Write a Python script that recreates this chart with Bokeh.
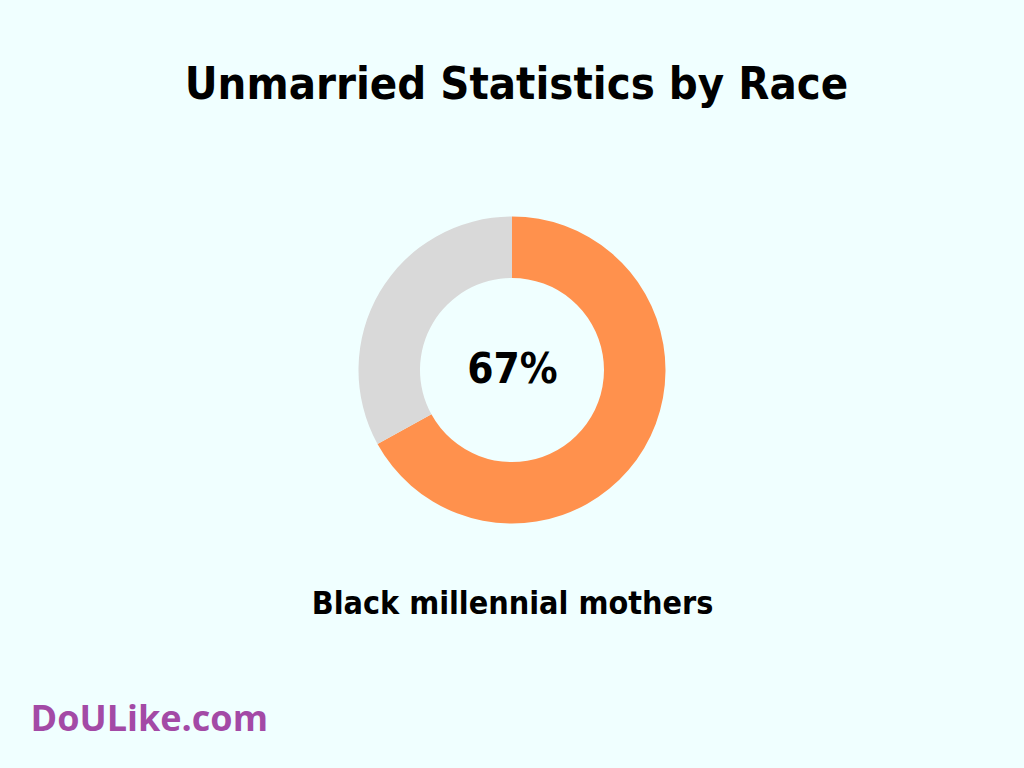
from bokeh.plotting import figure
from bokeh.embed import file_html
from bokeh.resources import INLINE
from bokeh.core.properties import value
from bokeh.models import Range1d
import math

# ---- data ----
title_text = "Unmarried Statistics by Race"
category = "Black millennial mothers"
share_pct = [67, 33]          # unmarried, remainder
share_colors = ["#FF914D", "#D9D9D9"]
logo_text = "DoULike.com"

W, H = 1024, 768
BG = "#F0FFFF"

p = figure(width=W, height=H, output_backend="svg", toolbar_location=None,
           x_range=Range1d(0, W), y_range=Range1d(0, H), min_border=0,
           background_fill_color=BG, border_fill_color=BG, outline_line_color=None)
p.axis.visible = False
p.grid.visible = False

cx, cy = 511.5, 768 - 369.5
start = math.pi / 2
angles = []
acc = 0.0
for v in share_pct:
    a0 = start - 2 * math.pi * (acc + v) / 100.0
    a1 = start - 2 * math.pi * acc / 100.0
    angles.append((a0, a1))
    acc += v
p.annular_wedge(x=[cx] * len(share_pct), y=[cy] * len(share_pct),
                inner_radius=92, outer_radius=153.5,
                start_angle=[a[0] for a in angles], end_angle=[a[1] for a in angles],
                fill_color=share_colors, line_color=None)

cond = value("DejaVu Sans Condensed")
p.text(x=[516], y=[768 - 83], text=[title_text], text_font=cond, text_font_style="bold",
       text_font_size="45px", text_align="center", text_baseline="alphabetic", text_color="black")
p.text(x=[512], y=[768 - 368], text=[f"{share_pct[0]}%"], text_font=cond, text_font_style="bold",
       text_font_size="42px", text_align="center", text_baseline="alphabetic", text_color="black")
p.text(x=[512], y=[768 - 602], text=[category], text_font=cond, text_font_style="bold",
       text_font_size="32px", text_align="center", text_baseline="alphabetic", text_color="black")
p.text(x=[30], y=[768 - 717], text=[logo_text], text_font=value("Open Sans"), text_font_style="bold",
       text_font_size="36px", text_align="left", text_baseline="alphabetic", text_color="#A34AA6")

html = file_html(p, INLINE)
html = html.replace("</head>", "<style>html,body{background:%s;}</style></head>" % BG, 1)
open("out.html", "w").write(html)
